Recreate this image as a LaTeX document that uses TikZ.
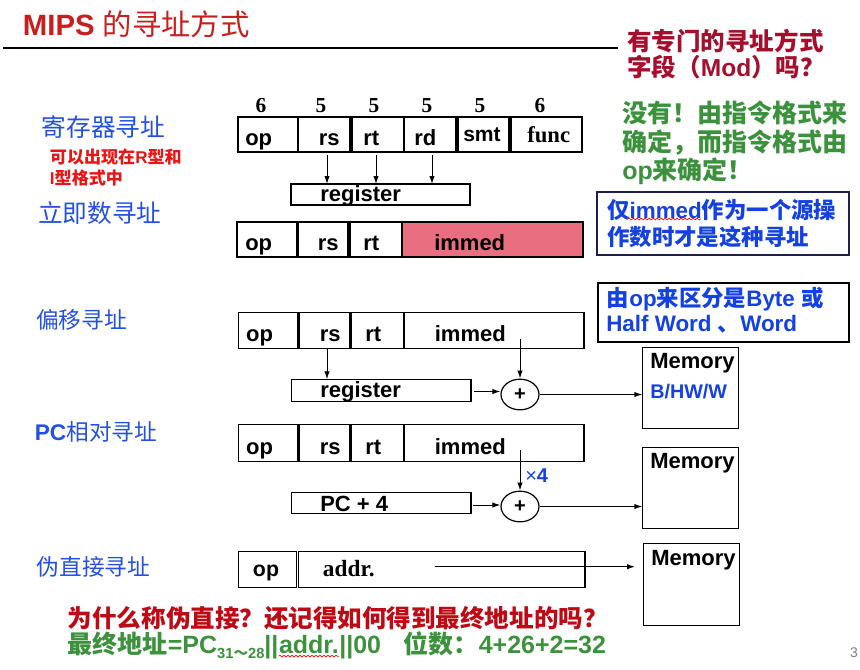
\documentclass[tikz,border=0pt]{standalone}
\usepackage{fontspec}
\setmainfont{Liberation Sans}
\newfontfamily\cjk{Noto Sans CJK SC}
\newfontfamily\tms{Liberation Serif}
\newcommand\C[1]{{\cjk #1}}
\newcommand\fs[1]{\fontsize{#1}{#1}\selectfont}
\usetikzlibrary{arrows.meta,decorations.pathmorphing,shapes.geometric}
\definecolor{titlered}{RGB}{200,30,30}
\definecolor{qred}{RGB}{165,15,45}
\definecolor{agreen}{RGB}{60,145,60}
\definecolor{lblue}{RGB}{35,80,225}
\definecolor{bblue}{RGB}{20,65,225}
\definecolor{nred}{RGB}{235,20,20}
\definecolor{bred}{RGB}{190,10,20}
\definecolor{immfill}{RGB}{232,110,128}
\definecolor{navy}{RGB}{30,30,80}
\newcommand\fbx[6][]{\node[fld,minimum width={(#5-#3)*0.75pt},minimum height={(#6-#4)*0.75pt},#1] (#2) at (#3,#4) {};}
\begin{document}
\begin{tikzpicture}[x=0.75pt,y=-0.75pt,
  fld/.style={draw, line width=1.1pt, inner sep=0pt, outer sep=0pt, anchor=north west},
  txt/.style={inner sep=0pt, anchor=base west},
  lbl/.style={inner sep=0pt, anchor=west},
  bt/.style={font=\bfseries\fs{16.5}},
  dig/.style={inner sep=0pt, anchor=base, font=\tms\bfseries\fs{16}},
  arr/.style={line width=0.75pt, -{Latex[length=6pt,width=4pt]}},
  plus/.style={draw, ellipse, line width=0.9pt, minimum width=28.5pt, minimum height=23pt, inner sep=0pt, font=\bfseries\fs{15}},
  bluetxt/.style={text=bblue, font=\bfseries\fs{16.8}},
  wavy/.style={draw=red, line width=0.5pt, decorate, decoration={snake, amplitude=0.7pt, segment length=3pt}},
]
\useasboundingbox (0,0) rectangle (860,669);
\fill[white] (0,0) rectangle (860,669);

% title
\node[txt, text=titlered, font=\bfseries\fs{22}] (title) at (22.7,35.7) {MIPS {\mdseries\C{的寻址方式}}};
\coordinate (hl0) at (3,48);
\coordinate (hl1) at (618,48);
\draw[line width=1.1pt] (hl0) -- (hl1);

% question and answer
\node[lbl, text=qred, font=\bfseries\fs{18.4}] (q1) at (627,41) {\C{有专门的寻址方式}};
\node[lbl, text=qred, font=\bfseries\fs{18.4}] (q2) at (627,67) {\C{字段（}Mod\C{）吗？}};
\node[lbl, text=agreen, font=\bfseries\fs{18.75}] (a1) at (622,112.5) {\C{没有！由指令格式来}};
\node[lbl, text=agreen, font=\bfseries\fs{18.75}] (a2) at (622,142.5) {\C{确定，而指令格式由}};
\node[lbl, text=agreen, font=\bfseries\fs{18.75}] (a3) at (622,171) {op\C{来确定！}};

% left labels
\node[lbl, text=lblue, font=\fs{18.5}] (L1) at (41.6,127.5) {\C{寄存器寻址}};
\node[lbl, text=nred, font=\bfseries\fs{12.8}] (n1) at (49.7,157.5) {\C{可以出现在}R\C{型和}};
\node[lbl, text=nred, font=\bfseries\fs{12.8}] (n2) at (49.7,177.5) {I\C{型格式中}};
\node[lbl, text=lblue, font=\fs{18.5}] (L2) at (37.8,213) {\C{立即数寻址}};
\node[lbl, text=lblue, font=\fs{17}] (L3) at (36,320) {\C{偏移寻址}};
\node[lbl, text=lblue, font=\fs{17}] (L4) at (34.6,431.5) {\textbf{PC}\C{相对寻址}};
\node[lbl, text=lblue, font=\fs{17}] (L5) at (36.7,567) {\C{伪直接寻址}};

% row 1 : R format
\node[dig] (d1) at (261,112.7) {6};
\node[dig] (d2) at (321,112.7) {5};
\node[dig] (d3) at (374,112.7) {5};
\node[dig] (d4) at (427,112.7) {5};
\node[dig] (d5) at (480,112.7) {5};
\node[dig] (d6) at (540,112.7) {6};
\fbx{op1}{238}{117}{298}{152}
\fbx{rs1}{298}{117}{350}{152}
\fbx{rt1}{352}{117}{404}{152}
\fbx{rd1}{404}{117}{456}{152}
\fbx{sm1}{458}{117}{509}{152}
\fbx{fn1}{511}{117}{582}{152}
\node[txt, bt] (op1t) at (245,145) {op};
\node[txt, bt, anchor=base east] (rs1t) at (340,145) {rs};
\node[txt, bt] (rt1t) at (363,145) {rt};
\node[txt, bt] (rd1t) at (414,145) {rd};
\node[txt, font=\bfseries\fs{15.8}] (sm1t) at (463,141.5) {smt};
\node[txt, font=\tms\bfseries\fs{17}] (fn1t) at (527,142.5) {func};
\fbx{reg1}{291}{184}{470}{205}
\node[txt, bt] (reg1t) at (320,201) {register};
\coordinate (r1a) at (327,155);
\coordinate (r1b) at (376,155);
\coordinate (r1c) at (432,155);
\draw[arr] (r1a) -- (r1a |- reg1.north);
\draw[arr] (r1b) -- (r1b |- reg1.north);
\draw[arr] (r1c) -- (r1c |- reg1.north);

% row 2 : immediate
\fbx{op2}{237}{222}{297}{257}
\fbx{rs2}{298}{222}{348}{257}
\fbx{rt2}{350}{222}{402}{257}
\fbx[fill=immfill]{im2}{402}{222}{583}{257}
\node[txt, bt] (op2t) at (245,250.5) {op};
\node[txt, bt, anchor=base east] (rs2t) at (339,250.5) {rs};
\node[txt, bt] (rt2t) at (363,250.5) {rt};
\node[txt, bt] (im2t) at (434,250.5) {immed};

% note box 1
\fbx[draw=navy]{tb1}{597}{192}{849}{255}
\node[lbl, bluetxt] (t1a) at (607,210) {\C{仅}{}immed\C{作为一个源操}};
\node[lbl, bluetxt] (t1d) at (607,236.5) {\C{作数时才是这种寻址}};
\coordinate (w1a) at (628,219);
\coordinate (w1b) at (701,219);
\draw[wavy] (w1a) -- (w1b);

% note box 2
\fbx{tb2}{598}{283}{849}{342}
\node[lbl, bluetxt] (t2a) at (606.7,299) {\C{由}op\C{来区分是}Byte \C{或}};
\node[lbl, bluetxt] (t2b) at (606,324.5) {Half Word \C{、}Word};

% row 3 : displacement
\fbx{op3}{238.5}{312.3}{298}{348.3}
\fbx{rs3}{298.8}{312.3}{350}{348.3}
\fbx{rt3}{351.5}{312.3}{403.5}{348.3}
\fbx{im3}{404}{312.3}{584}{348.3}
\node[txt, bt] (op3t) at (245.8,341) {op};
\node[txt, bt, anchor=base east] (rs3t) at (341,341) {rs};
\node[txt, bt] (rt3t) at (365,341) {rt};
\node[txt, bt] (im3t) at (434.6,341) {immed};
\fbx{reg3}{291.5}{379.3}{470.8}{401.3}
\node[txt, bt] (reg3t) at (320,397) {register};
\node[plus] (c3) at (520,394.5) {+};
\coordinate (r3a) at (327,349);
\draw[arr] (r3a) -- (r3a |- reg3.north);
\coordinate (i3) at (520,339);
\draw[arr] (i3) -- (c3.north);
\coordinate (g3) at (473.8,391.5);
\draw[arr] (g3) -- (g3 -| c3.west);
\fbx[line width=1pt]{mem1}{642.3}{347.3}{738.3}{428.3}
\node[txt, bt] (mem1t) at (650,368.3) {Memory};
\node[txt, text=bblue, font=\bfseries\fs{14.8}] (mem1b) at (650,398) {B/HW/W};
\draw[arr] (c3.east) -- (c3.east -| mem1.west);

% row 4 : PC relative
\fbx{op4}{238.5}{424.3}{298}{461.3}
\fbx{rs4}{298.8}{424.3}{350}{461.3}
\fbx{rt4}{351.5}{424.3}{403.5}{461.3}
\fbx{im4}{404}{424.3}{584}{461.3}
\node[txt, bt] (op4t) at (245.8,454) {op};
\node[txt, bt, anchor=base east] (rs4t) at (341,454) {rs};
\node[txt, bt] (rt4t) at (365,454) {rt};
\node[txt, bt] (im4t) at (434.6,454) {immed};
\fbx{pc4}{291.5}{492.3}{470.8}{513.3}
\node[txt, bt] (pc4t) at (320,511) {PC + 4};
\node[plus] (c4) at (520,506.5) {+};
\coordinate (i4) at (520,450);
\draw[arr] (i4) -- (c4.north);
\node[lbl, text=bblue, font=\fs{15}] (x4) at (525,476) {×\textbf{4}};
\coordinate (g4) at (472.5,505);
\draw[arr] (g4) -- (g4 -| c4.west);
\fbx[line width=1pt]{mem2}{642.3}{447.3}{738.3}{528.3}
\node[txt, bt] (mem2t) at (650,468) {Memory};
\draw[arr] (c4.east) -- (c4.east -| mem2.west);

% row 5 : pseudo direct
\fbx{op5}{238.3}{551.7}{296.5}{587.7}
\fbx{ad5}{298.3}{551.7}{585}{587.7}
\node[txt, font=\bfseries\fs{16}] (op5t) at (252.7,576.5) {op};
\node[txt, font=\tms\bfseries\fs{17.5}] (ad5t) at (322.7,576) {addr.};
\fbx[line width=1pt]{mem3}{643.3}{543.3}{739.3}{625.3}
\node[txt, bt] (mem3t) at (651,565) {Memory};
\coordinate (a5) at (434.7,566.7);
\coordinate (a5e) at (635,566.7);
\draw[arr] (a5) -- (a5e);

% bottom lines
\node[txt, text=bred, font=\bfseries\fs{18.4}] (bq) at (67.6,627) {\C{为什么称伪直接？还记得如何得到最终地址的吗？}};
\node[txt, text=agreen, font=\bfseries\fs{18.75}] (g1) at (67.6,653.5) {\C{最终地址}=PC\raisebox{-4pt}{\fs{11}31\C{～}28}||};
\node[txt, text=agreen, font=\bfseries\fs{18.75}] (g2) at (g1.base east) {addr.};
\node[txt, text=agreen, font=\bfseries\fs{18.75}] (g3) at (g2.base east) {||00\hspace{17pt}\C{位数：}4+26+2=32};
\draw[wavy] ([yshift=-2pt]g2.base west) -- ([yshift=-2pt]g2.base east);

\node[text=gray, font=\fs{10.5}, inner sep=0pt] (pg) at (854,653) {3};
\end{tikzpicture}
\end{document}
